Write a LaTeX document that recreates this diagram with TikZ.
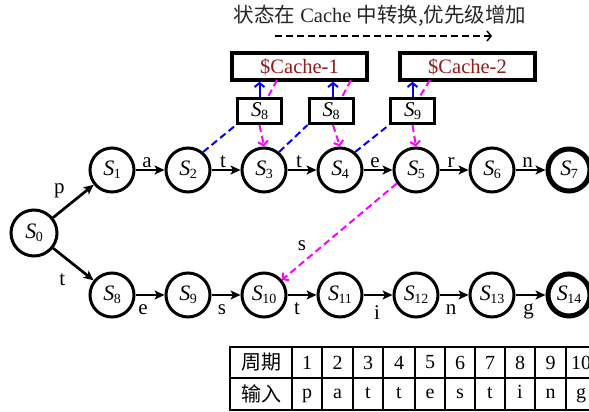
\documentclass[tikz,border=0pt]{standalone}
\usepackage{fontspec}
\setmainfont{Liberation Serif}
\newfontfamily\cjk{Noto Sans CJK SC}
\usetikzlibrary{arrows.meta,calc}
\definecolor{cachered}{RGB}{150,25,25}
\definecolor{mag}{RGB}{255,0,255}
\definecolor{blu}{RGB}{0,0,255}
\newcommand\Sn[1]{\textit{S}\kern-0.5pt\raisebox{-0.12em}{\fontsize{14}{14}\selectfont #1}}
\begin{document}
\begin{tikzpicture}[x=1pt,y=-1pt,
  st/.style={circle,draw,line width=3pt,minimum size=44pt,inner sep=0pt,font=\fontsize{22}{24}\selectfont},
  fin/.style={st,line width=5pt,minimum size=42pt},
  sbox/.style={draw,line width=3pt,minimum width=44pt,minimum height=25pt,inner sep=0pt,font=\fontsize{21}{24}\selectfont},
  cbox/.style={draw,line width=3.5pt,minimum width=135pt,minimum height=27pt,inner sep=0pt,font=\fontsize{20.5}{22}\selectfont,text=cachered},
  tr/.style={line width=2.7pt,-{Stealth[length=10pt,width=9pt,inset=2.5pt]}},
  lbl/.style={font=\fontsize{21}{22}\selectfont,inner sep=0pt,text=black},
  bdash/.style={blu,line width=2pt,dash pattern=on 7pt off 4pt},
  mdash/.style={mag,line width=2pt,dash pattern=on 7pt off 4pt},
  otip/.style={-{Straight Barb[length=4pt,width=10pt]}},
  tcell/.style={font=\fontsize{20}{22}\selectfont,inner sep=0pt},
  tgrid/.style={line width=2pt}
]
\useasboundingbox (0,0) rectangle (589,412);

% title
\node[font=\fontsize{20.5}{22}\selectfont,text=black!85] (title) at (380,16) {{\cjk 状态在} Cache {\cjk 中转换,优先级增加}};
\coordinate (ta) at (275,36);
\coordinate (tb) at (492,36);
\draw[line width=1.5pt,dash pattern=on 7pt off 4pt,otip] (ta) -- (tb);

% states
\node[st,minimum size=46pt] (S0) at (34,233) {\Sn{0}};
\node[st] (S1) at (112,170) {\Sn{1}};
\node[st] (S2) at (188,170) {\Sn{2}};
\node[st] (S3) at (264,170) {\Sn{3}};
\node[st] (S4) at (340,170) {\Sn{4}};
\node[st] (S5) at (416,170) {\Sn{5}};
\node[st] (S6) at (492,170) {\Sn{6}};
\node[fin] (S7) at (569,170) {\Sn{7}};
\node[st] (S8) at (112,295) {\Sn{8}};
\node[st] (S9) at (188,295) {\Sn{9}};
\node[st] (S10) at (264,295) {\Sn{10}};
\node[st] (S11) at (340,295) {\Sn{11}};
\node[st] (S12) at (416,295) {\Sn{12}};
\node[st] (S13) at (492,295) {\Sn{13}};
\node[fin] (S14) at (569,295) {\Sn{14}};

% cache boxes
\node[cbox] (c1) at (299.5,66.5) {\$Cache-1};
\node[cbox] (c2) at (467.5,66.5) {\$Cache-2};
\node[sbox] (b1) at (259.5,111) {\Sn{8}};
\node[sbox] (b2) at (331,111) {\Sn{8}};
\node[sbox] (b3) at (412.5,111) {\Sn{9}};

% transitions
\draw[tr] (S0) -- node[lbl,xshift=-14pt,yshift=10pt]{p} (S1);
\draw[tr] (S0) -- node[lbl,xshift=-11pt,yshift=-15pt]{t} (S8);
\draw[tr] (S1) -- node[lbl,anchor=base,xshift=-3pt,yshift=3pt]{a} (S2);
\draw[tr] (S2) -- node[lbl,anchor=base,xshift=-3pt,yshift=3pt]{t} (S3);
\draw[tr] (S3) -- node[lbl,anchor=base,xshift=-3pt,yshift=3pt]{t} (S4);
\draw[tr] (S4) -- node[lbl,anchor=base,xshift=-3pt,yshift=3pt]{e} (S5);
\draw[tr] (S5) -- node[lbl,anchor=base,xshift=-3pt,yshift=3pt]{r} (S6);
\draw[tr] (S6) -- node[lbl,anchor=base,xshift=-3pt,yshift=3pt]{n} (S7);
\draw[tr] (S8) -- node[lbl,anchor=base,xshift=-7pt,yshift=-19pt]{e} (S9);
\draw[tr] (S9) -- node[lbl,anchor=base,xshift=-4pt,yshift=-19pt]{s} (S10);
\draw[tr] (S10) -- node[lbl,anchor=base,xshift=-5pt,yshift=-19pt]{t} (S11);
\draw[tr] (S11) -- node[lbl,anchor=base,xshift=-1pt,yshift=-24pt]{i} (S12);
\draw[tr] (S12) -- node[lbl,anchor=base,xshift=-3pt,yshift=-19pt]{n} (S13);
\draw[tr] (S13) -- node[lbl,anchor=base,xshift=-2pt,yshift=-19pt]{g} (S14);

% cache interactions
\draw[bdash] (S2.50) -- (b1.south west);
\draw[blu,line width=2pt,otip] (b1.north) -- (b1.north |- c1.south);
\draw[mdash] ($(b1.north)+(17.5,-17)$) -- ($(b1.north)+(8.5,0)$);
\draw[mdash,otip] (b1.south) -- (S3.north);

\draw[bdash] (S3.50) -- (b2.south west);
\draw[blu,line width=2pt,otip] ([xshift=2pt]b2.north) -- ([xshift=2pt]b2.north |- c1.south);
\draw[mdash] ($(b2.north)+(20,-17)$) -- ($(b2.north)+(11,0)$);
\draw[mdash,otip] ([xshift=2pt]b2.south) -- (S4.north);

\draw[bdash] (S4.50) -- (b3.south west);
\draw[blu,line width=2pt,otip] (b3.north) -- (b3.north |- c2.south);
\draw[mdash] ($(b3.north)+(17.5,-17)$) -- ($(b3.north)+(7,0)$);
\draw[mdash,otip] (b3.south) -- (S5.north);

\draw[mdash,otip] (S5.215) -- node[lbl,pos=0.8,xshift=-3pt,yshift=15pt]{s} (S10.40);

% table
\draw[tgrid] (230,347) rectangle (597,410);
\draw[tgrid] (230,378) -- (597,378);
\foreach \x in {292,322,353,383,415,445,475,505,535,566}
  \draw[tgrid] (\x,347) -- (\x,410);
\node[tcell,font=\fontsize{20}{22}\selectfont\cjk] (h1) at (261,362.5) {周期};
\node[tcell,font=\fontsize{20}{22}\selectfont\cjk] (h2) at (261,394) {输入};
\foreach \n/\x/\c in {1/307/p,2/337.5/a,3/368/t,4/399/t,5/430/e,6/460/s,7/490/t,8/520/i,9/550.5/n,10/581/g}{
  \node[tcell] (n\n) at (\x,362.5) {\n};
  \node[tcell] (i\n) at (\x,394) {\strut\c};
}
\end{tikzpicture}
\end{document}
